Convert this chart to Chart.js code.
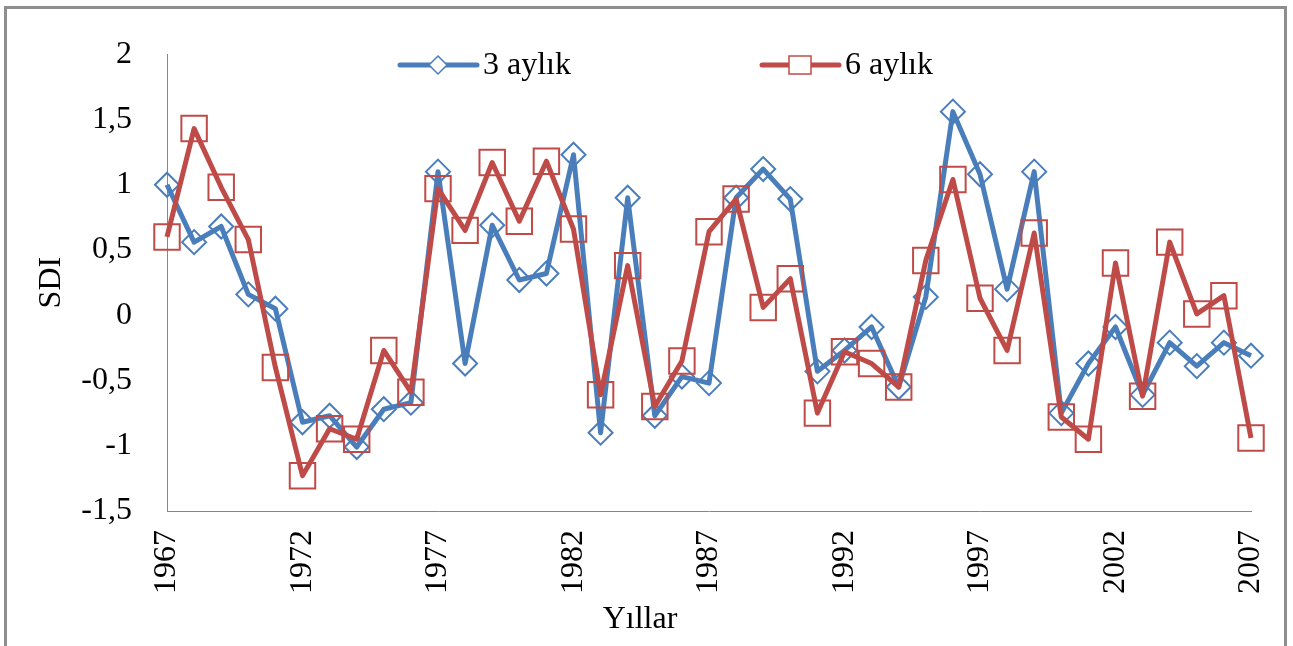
<!DOCTYPE html>
<html>
<head>
<meta charset="utf-8">
<script src="https://cdn.jsdelivr.net/npm/chart.js@4.4.1/dist/chart.umd.min.js"></script>
<style>
  html, body { margin: 0; padding: 0; background: #fff; }
  #wrap { width: 1293px; height: 646px; }
</style>
</head>
<body>
<div id="wrap"><canvas id="sdiChart" width="1293" height="646"></canvas></div>
<script>
const years = ['1967','1968','1969','1970','1971','1972','1973','1974','1975','1976',
  '1977','1978','1979','1980','1981','1982','1983','1984','1985','1986',
  '1987','1988','1989','1990','1991','1992','1993','1994','1995','1996',
  '1997','1998','1999','2000','2001','2002','2003','2004','2005','2006','2007'];

const shownYears = ['1967','1972','1977','1982','1987','1992','1997','2002','2007'];

const sdi3 = [1.00, 0.56, 0.68, 0.16, 0.05, -0.82, -0.77, -1.01, -0.72, -0.67,
  1.10, -0.37, 0.69, 0.27, 0.32, 1.23, -0.90, 0.90, -0.77, -0.47,
  -0.52, 0.90, 1.12, 0.89, -0.43, -0.27, -0.09, -0.55, 0.14, 1.56,
  1.08, 0.20, 1.10, -0.75, -0.37, -0.09, -0.61, -0.21, -0.39, -0.21, -0.31];

const sdi6 = [0.60, 1.43, 0.98, 0.58, -0.40, -1.23, -0.87, -0.95, -0.27, -0.59,
  0.97, 0.65, 1.17, 0.72, 1.18, 0.66, -0.61, 0.38, -0.70, -0.35,
  0.64, 0.89, 0.06, 0.28, -0.75, -0.28, -0.37, -0.55, 0.42, 1.04,
  0.13, -0.27, 0.63, -0.78, -0.95, 0.40, -0.62, 0.56, 0.01, 0.15, -0.94];

const seriesNames = ['3 aylık', '6 aylık'];
const xTitle = 'Yıllar';

const BLUE = '#4A7EBB';
const RED = '#BE4B48';
const serif = "'Liberation Serif', 'Times New Roman', serif";

// outer frame of the picture
const framePlugin = {
  id: 'frame',
  beforeDraw(chart) {
    const ctx = chart.ctx;
    ctx.save();
    ctx.fillStyle = '#fff';
    ctx.fillRect(0, 0, chart.width, chart.height);
    ctx.strokeStyle = '#8e8e8e';
    ctx.lineWidth = 3;
    ctx.strokeRect(5.5, 7.5, 1280, 700);
    ctx.restore();
  }
};

// x title sits centred on the whole picture, not on the axis
const xTitlePlugin = {
  id: 'xTitle',
  afterDraw(chart) {
    const ctx = chart.ctx;
    ctx.save();
    ctx.fillStyle = '#000';
    ctx.font = '32px ' + serif;
    ctx.textAlign = 'center';
    ctx.textBaseline = 'middle';
    ctx.fillText(xTitle, 640, 620);
    ctx.restore();
  }
};

// legend drawn as line + marker + text, like the excel one
const lineLegend = {
  id: 'lineLegend',
  afterDraw(chart) {
    const ctx = chart.ctx;
    const spots = [400, 762];
    const y = 65;
    ctx.save();
    chart.data.datasets.forEach((ds, i) => {
      const x = spots[i];
      ctx.strokeStyle = ds.borderColor;
      ctx.lineWidth = 5;
      ctx.lineCap = 'round';
      ctx.beginPath();
      ctx.moveTo(x, y);
      ctx.lineTo(x + 77, y);
      ctx.stroke();

      const cx = x + 38;
      ctx.lineWidth = 1.5;
      ctx.fillStyle = '#fff';
      ctx.beginPath();
      if (ds.pointStyle === 'rectRot') {
        ctx.moveTo(cx, y - 9);
        ctx.lineTo(cx + 9, y);
        ctx.lineTo(cx, y + 9);
        ctx.lineTo(cx - 9, y);
        ctx.closePath();
      } else {
        ctx.rect(cx - 11, y - 9, 22, 18);
      }
      ctx.fill();
      ctx.stroke();

      ctx.fillStyle = '#000';
      ctx.font = '32px ' + serif;
      ctx.textBaseline = 'middle';
      ctx.textAlign = 'left';
      ctx.fillText(ds.label, x + 83, y + 1);
    });
    ctx.restore();
  }
};

const ctx = document.getElementById('sdiChart').getContext('2d');

new Chart(ctx, {
  type: 'line',
  data: {
    labels: years,
    datasets: [{
      label: seriesNames[0],
      data: sdi3,
      borderColor: BLUE,
      borderWidth: 5,
      borderJoinStyle: 'round',
      pointStyle: 'rectRot',
      pointRadius: 12,
      pointBorderWidth: 2,
      pointBorderColor: BLUE,
      pointBackgroundColor: 'rgba(0,0,0,0)',
      tension: 0,
      clip: false,
      order: 1
    }, {
      label: seriesNames[1],
      data: sdi6,
      borderColor: RED,
      borderWidth: 5,
      borderJoinStyle: 'round',
      pointStyle: 'rect',
      pointRadius: 18,
      pointBorderWidth: 2,
      pointBorderColor: RED,
      pointBackgroundColor: 'rgba(0,0,0,0)',
      tension: 0,
      clip: false,
      order: 0
    }]
  },
  options: {
    responsive: false,
    animation: false,
    devicePixelRatio: 1,
    layout: {
      padding: { left: 0, right: 42, top: 50, bottom: 0 }
    },
    plugins: {
      legend: { display: false },
      tooltip: { enabled: false }
    },
    scales: {
      x: {
        type: 'category',
        offset: false,
        grid: { drawOnChartArea: false, drawTicks: false },
        border: { color: '#868686', width: 1 },
        ticks: {
          autoSkip: false,
          minRotation: 90,
          maxRotation: 90,
          padding: 19,
          color: '#000',
          font: { family: serif, size: 32 },
          callback: function (value) {
            const lbl = this.getLabelForValue(value);
            return shownYears.includes(lbl) ? lbl : '';
          }
        },
        afterFit: (scale) => {
          scale.height = 135;
          scale.paddingLeft = 0;
          scale.paddingRight = 0;
        }
      },
      y: {
        min: -1.5,
        max: 2,
        grid: { drawOnChartArea: false, drawTicks: false },
        border: { color: '#868686', width: 1 },
        ticks: {
          stepSize: 0.5,
          padding: 35,
          color: '#000',
          font: { family: serif, size: 32 },
          callback: (v) => String(v).replace('.', ',')
        },
        title: {
          display: true,
          text: 'SDI',
          color: '#000',
          font: { family: serif, size: 32 },
          padding: { top: 32, bottom: 0 }
        },
        afterFit: (scale) => { scale.width = 167; }
      }
    }
  },
  plugins: [framePlugin, xTitlePlugin, lineLegend]
});
</script>
</body>
</html>
